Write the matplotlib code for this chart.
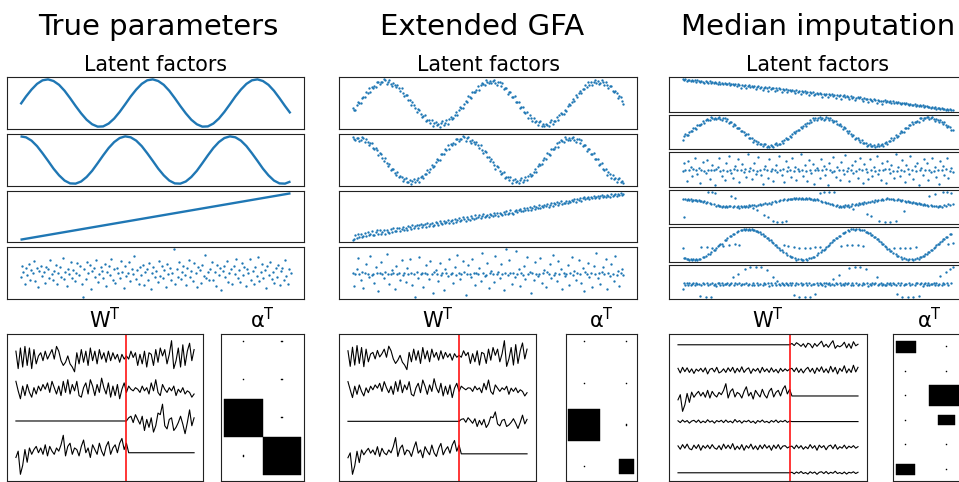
import numpy as np
import matplotlib
matplotlib.use("Agg")
import matplotlib.pyplot as plt
from matplotlib.patches import Rectangle

# ------------------------------------------------------------------
# DATA  (latent factor and loading values are stored in hundredths)
# ------------------------------------------------------------------
col_titles = ["True parameters", "Extended GFA", "Median imputation"]
panel_title = "Latent factors"

# --- true latent factors ---
true_z1 = [-5,28,57,81,96,100,93,77,52,21, -12,-43,-70,-89,-99,-98,-86,-65,-37,-5,
           28,57,81,96,100,93,77,52,21,-12, -43,-70,-89,-99,-98,-86,-65,-37,-5,28,
           57,81,96,100,93,77,52,21,-12,-43]
true_z2 = [100,96,82,59,29,-3,-36,-64,-86,-98, -99,-90,-71,-45,-13,20,51,76,93,100,
           96,82,59,29,-3,-36,-64,-86,-98,-99, -90,-71,-45,-13,20,51,76,93,100,96,
           82,59,29,-3,-36,-64,-86,-98,-99,-90]
true_z3 = [-100, 100]
true_z4 = [-45,80,12,-130,60,-20,105,-75,30,-5,140,-95,55,-160,20,85,-35,10,-110,70,
           45,-60,150,-15,-85,25,95,-120,5,65,-40,175,-70,15,-145,50,-10,120,-55,35,
           -90,0,110,-25,75,-130,-270,40,-65,130,-5,90,-180,20,60,-40,145,-100,-15,70,
           25,-55,100,-150,10,85,-20,160,-80,40,-115,55,-5,-60,135,15,-170,80,-35,5,
           120,-90,45,-10,190,-65,30,-125,70,-25,95,-140,15,50,-75,110,-180,0,65,-45,
           20,-100,140,-30,80,-60,35,-155,105,-15,60,-85,5,270,-120,45,-40,125,-70,10,
           85,-20,-135,55,150,-50,25,-95,115,-5,-165,70,30,-110,90,-35,200,-60,10,-85,
           40,125,-75,15,-150,95,-25,60,-190,20,75,-45,135,-105,0,50,-130,85,-15,165,
           -60,30,-100,110,-20,70,-145,45,-5,155,-80,25,-120,65,-35,180,-90,10,100,-55,
           35,-170,80,-25,130,-65,15,-110,55,-40,95,-140,20,60,-85,145,-30,-120,45,5]

# --- Extended GFA latent factors ---
gfa_z1 = [-22,-34,-30,-8,4,2,1,26,29,28,53,47,69,54,74,70,82,73,98,99,87,100,98,111,
          106,91,101,108,91,80,96,85,74,85,72,55,69,48,33,40,37,13,13,-7,
          4,-8,-25,-41,-29,-33,-53,-65,-61,-57,-84,-81,-78,-95,-81,-107,-94,-90,-104,-100,
          -110,-93,-84,-102,-94,-81,-96,-76,-65,-74,-71,-56,-43,-55,-30,-17,-23,-21,-2,10,
          6,32,27,25,52,53,50,59,79,62,85,93,87,83,106,97,93,104,
          93,103,109,95,84,97,97,81,92,66,69,69,44,54,52,29,27,31,4,6,
          3,-22,-17,-16,-40,-46,-41,-69,-57,-68,-83,-70,-89,-84,-103,-88,-84,-105,-98,-109,
          -96,-102,-109,-87,-81,-96,-84,-85,-66,-79,-57,-45,-52,-51,-32,-39,-13,-2,-8,4,
          17,11,39,29,45,58,45,67,68,84,73,98,86,98,85,98,107,95,
          104,88,96,106,101,84,100,84,70,78,82,58,50,58,45,24,33,30,8,-5]
gfa_z2 = [106,97,93,104,
          104,88,96,106,101,84,100,84,70,78,82,58,50,58,45,24,33,30,8,-5,
          8,-12,-26,-21,-48,-40,-41,-59,-71,-58,-80,-76,-79,-99,-91,-83,-104,-102,-92,-111,
          -98,-89,-103,-96,-83,-101,-80,-73,-84,-66,-67,-46,-58,-43,-22,-34,-30,-8,4,2,
          1,26,29,28,53,47,69,54,74,70,82,73,98,99,87,100,98,111,
          106,91,101,108,91,80,96,85,74,85,72,55,69,48,33,40,37,13,13,-7,
          4,-8,-25,-41,-29,-33,-53,-65,-61,-57,-84,-81,-78,-95,-81,-107,-94,-90,-104,-100,
          -110,-93,-84,-102,-94,-81,-96,-76,-65,-74,-71,-56,-43,-55,-30,-17,-23,-21,-2,10,
          6,32,27,25,52,53,50,59,79,62,85,93,87,83,106,97,93,104,
          93,103,109,95,84,97,97,81,92,66,69,69,44,54,52,29,27,31,4,6,
          3,-22,-17,-16,-40,-46,-41,-69,-57,-68,-83,-70,-89,-84,-103,-88,-84,-105,-98,-109]
gfa_z3 = [-113,-109,-92,-104,-88,-99,-85,-101,-96,-84, -97,-78,-92,-86,-74,-89,-91,-77,-70,-88,
          -69,-85,-76,-70,-88,-66,-78,-81,-64,-75, -59,-74,-72,-60,-56,-71,-63,-52,-68,-57,
          -66,-49,-55,-62,-45,-58,-50,-43,-57,-46, -39,-55,-44,-38,-52,-36,-47,-40,-33,-49,
          -42,-29,-37,-45,-27,-33,-39,-24,-36,-28, -19,-34,-26,-22,-33,-16,-28,-20,-13,-27,
          -23,-9,-17,-24,-8,-14,-21,-3,-12,-18, 1,-13,-6,2,-11,-3,7,-8,-1,4,
          -7,9,3,-4,12,1,10,-2,14,5, 4,17,8,21,6,13,24,11,9,22,
          27,15,25,31,19,22,36,24,33,26, 40,28,35,44,30,41,36,47,33,45,
          39,51,46,55,42,50,59,44,57,52, 62,50,58,66,53,61,57,68,59,70,
          63,74,69,77,65,78,72,82,70,80, 85,76,83,88,79,86,81,90,84,89,
          92,83,90,95,86,93,88,97,91,85, 99,90,97,102,93,100,95,104,98,101]
gfa_z4 = [5,-120,-8,40,150,-3,-60,10,-140,2,95,-5,-30,170,-10,0,-90,60,8,-170,
          4,110,-6,-45,12,190,-2,-100,-7,30,3,-150,70,-4,9,-60,130,-11,1,-80,
          50,-6,140,7,-110,-2,-230,11,-40,160,-9,4,-130,6,80,-3,-50,120,0,-190,
          10,35,-5,-75,105,-12,3,-160,45,8,-20,140,-6,2,-95,65,-10,180,5,-55,
          -8,125,12,-210,0,85,-4,-35,145,7,-115,3,-1,55,-70,200,9,-25,-13,100,
          -140,6,25,-5,-85,175,-2,11,-45,90,-9,-165,4,240,-15,130,1,-100,8,-30,
          220,-6,40,-120,3,-10,75,-55,160,-4,12,-190,5,-65,115,0,-20,-8,150,-90,
          6,30,-135,10,-3,95,-40,185,-11,2,-75,120,-7,45,-150,9,-25,-5,80,-115,
          4,165,-12,20,-60,7,135,-2,-95,55,-170,10,-6,105,-35,1,-130,75,-9,200,
          -45,3,-105,12,60,-8,140,-155,5,-20,90,-2,-70,170,-11,25,-125,8,40,-15]

# --- Median imputation latent factors ---
med_z1 = [106,96,101,92,99,94,89,97,88,95, 85,96,88,83,93,86,80,91,84,79,
          88,78,85,76,83,80,72,84,74,79, 70,79,73,68,77,66,74,69,63,72,
          60,69,63,46,67,58,64,42,55,63, 52,60,54,59,37,50,57,48,53,31,
          46,52,42,28,49,39,47,44,24,45, 33,42,37,19,40,31,38,16,35,29,
          24,33,27,10,31,22,28,6,26,19, 24,14,21,0,17,12,20,-4,9,15,
          5,13,8,-11,9,1,7,-14,5,-2, 3,-5,2,-21,-1,-9,-3,-25,-10,-4,
          -14,-6,-13,-30,-9,-19,-12,-34,-21,-15, -23,-17,-26,-40,-22,-29,-27,-46,-25,-35,
          -37,-28,-33,-53,-31,-40,-38,-58,-43,-36, -45,-38,-48,-43,-51,-41,-53,-46,-55,-48,
          -51,-59,-54,-52,-62,-55,-58,-65,-57,-63, -68,-61,-70,-65,-73,-67,-75,-69,-77,-71,
          -74,-81,-76,-84,-79,-86,-81,-89,-83,-88, -92,-86,-94,-89,-97,-91,-99,-94,-101,-97]
med_z2 = [-55,-30,-17,-23,-21,-2,10,6,32,27,25,52,53,50,59,79,62,85,93,87,83,106,97,93,104,
          93,103,109,95,84,97,97,81,92,66,69,69,44,54,52,29,27,31,4,6,
          3,-22,-17,-16,-40,-46,-41,-69,-57,-68,-83,-70,-89,-84,-103,-88,-84,-105,-98,-109,
          -96,-102,-109,-87,-81,-96,-84,-85,-66,-79,-57,-45,-52,-51,-32,-39,-13,-2,-8,4,
          17,11,39,29,45,58,45,67,68,84,73,98,86,98,85,98,107,95,
          104,88,96,106,101,84,100,84,70,78,82,58,50,58,45,24,33,30,8,-5,
          8,-12,-26,-21,-48,-40,-41,-59,-71,-58,-80,-76,-79,-99,-91,-83,-104,-102,-92,-111,
          -98,-89,-103,-96,-83,-101,-80,-73,-84,-66,-67,-46,-58,-43,-22,-34,-30,-8,4,2,
          1,26,29,28,53,47,69,54,74,70,82,73,98,99,87,100,98,111,
          106,91,101,108,91,80,96,85,74,85,72,55,69,48,33,40,37,13,13]
med_z3 = [-6,90,3,-140,120,-4,45,-80,8,160,-2,-55,25,-170,5,100,-9,-35,130,1,
          -110,7,65,-3,-190,11,40,150,-6,-70,2,-125,85,-12,180,4,-40,-95,10,55,
          -5,135,-150,0,75,-20,9,-85,200,-7,30,-115,6,95,-45,-10,165,3,-60,-180,
          12,50,-4,-100,140,-8,20,-135,5,70,-30,185,-2,-65,10,-155,115,-11,45,1,
          -90,160,-6,35,-120,8,-15,210,-3,-75,60,-9,-140,125,4,-40,80,-175,0,25,
          7,-105,145,-5,55,-60,11,-190,90,2,-25,170,-8,-85,40,6,-130,100,-1,-50,
          190,-10,30,-145,3,65,-35,120,-7,-95,15,155,-4,-165,75,9,-20,-110,135,0,
          -70,45,-12,180,-55,5,-125,95,-3,20,-160,110,8,-40,60,-6,-100,205,-9,35,
          -80,2,130,-15,-150,70,10,-45,175,-2,-115,50,-8,85,-195,4,25,-65,140,-5,
          90,-130,6,-30,160,-11,40,-85,3,-175,115,-1,55,-60,12,150,-100,-7,30,-20]
med_z4 = [28,-100,27,19,25,21,26,17,23,19, 22,15,20,12,17,9,13,3,7,78,
          1,-9,80,-8,75,-21,-16,-25,-19,-27, -20,-29,-22,-31,-25,-24,50,-32,-23,35,
          -31,-24,-33,-22,-29,-21,-28,-19,-26,-17, -23,-15,-35,-13,-20,-50,-17,-8,-14,-5,
          -85,-2,-8,-100,3,-4,6,-130,12,7, -138,13,24,-140,21,30,-132,23,31,25,
          32,25,33,27,34,28,35,29,36,30, 29,36,28,34,25,31,22,28,19,25,
          24,70,17,8,80,9,-1,3,82,-10, -6,-16,76,-22,-18,-28,-24,-30,-21,-27,
          -18,-24,-15,-30,-20,-11,-45,-15,-6,-12, -2,-8,1,-5,4,-1,-80,9,4,-95,
          15,10,19,13,22,-128,20,27,23,-138, 26,34,29,-140,27,31,23,-130,20,25,
          22,14,19,-60,16,9,13,5,9,1, 5,-3,1,-7,-2,-11,-6,-15,-10,-18,
          -13,-21,50,-17,-24,-19,62,-22,-29,-24, -25,-30,80,-18,-23,82,-11,-16,75,-4]
med_z5 = [-20,-88,-86,-95,-92,-100,-96,-103,
          -97,-103,-96,-100,-92,-95,-18,-82,-84,-73, -15,-62,-62,-49,-20,-35,-34,-20,-12,-5,
          3,5,-8,26,28,41,-5,55,56,68, 68,2,78,88,0,95,92,100,96,103,
          97,102,96,100,92,95,86,88,78,79, 68,68,56,55,42,41,28,26,13,11,
          -3,-5,-19,-20,-34,-35,-48,-5,-56,-68, -10,-73,-84,-82,-18,-89,-98,-94,-22,-97,
          -103,-98,-20,-95,-98,-89,-24,-88,-78,-79, -18,-68,-56,-15,-48,-35,-34,-26,-13,-11,
          -3,11,13,26,28,41,42,55,56,-8, 74,73,84,-3,92,89,98,0,102,97,
          103,-5,100,94,97,-8,92,82,84,73, 74,62,62,49,48,35,34,20,19,5,
          3,-11,-13,-26,-28,-41,-42,-55,-20,-62, -74,-73,-22,-82,-92,-89,-25,-94,-102,-97,
          -20,-97,-102,-94,-15,-89,-92,-82,-84,-73, -74,-62,-62,-49,-48,-35,-34,-20,-19,-5,
          3,5,19,20,34,35,48,49,5,68, 68,10]
med_z6 = [-30,4,-6,8,-3,5,-8,2,7,-4, 6,-2,3,-70,-7,9,-1,-78,5,-5,
          2,-75,8,-6,1,-9,4,7,-3,6, -7,3,-1,9,-5,2,6,40,-4,8,
          -2,60,5,-8,3,-1,90,7,-6,2, 105,-4,9,-3,105,6,-7,1,100,-5,
          8,-2,85,4,-9,5,-3,40,7,-6, 20,3,-5,8,-1,-7,6,2,-4,9,
          -3,5,-65,-8,4,-2,-78,7,-5,1, -80,6,-4,9,-75,-7,3,-1,-60,5,
          -6,8,2,-3,7,-9,4,-2,6,-5, 1,30,-7,5,-1,55,8,-4,3,-6,
          9,-2,4,95,-8,6,-3,105,7,-5, 2,102,-6,8,-1,90,5,-9,3,-4,
          7,-2,6,40,-7,1,9,-5,3,-3, -8,4,-1,6,-6,8,2,-4,-60,5,
          -3,9,-75,-7,3,-1,-80,6,-5,2, -80,-8,4,7,-72,-2,5,-9,1,6,
          -4,8,-6,3,-1,7,-3,5,-7,2, 50,-5,9,-2,75,4,-8,90,6,100]

# --- loadings W^T (rows = components, features of view 1 then view 2) ---
view1_last = 49
w_true = [
    [20,-35,30,-30,35,-25,30,-35,25,-20, 5,15,-10,20,-5,10,25,-5,35,20,
     -10,-25,-15,5,-20,-30,-45,15,-20,25, -15,20,-25,30,-10,20,-20,25,-5,15,
     -15,20,-10,15,-5,10,-15,10,-5,5,
     -5,20,0,15,-25,10,-20,20,-30,15, 10,-25,25,-15,30,5,25,-20,10,53,
     -35,-10,30,-30,40,-25,20,45,-10,25],
    [25,-5,-30,10,-20,15,-10,-25,5,-15, 10,-5,15,0,20,-10,25,5,-15,10,
     -20,25,-10,30,-15,15,-5,25,-20,-25, 5,20,-15,30,10,-20,15,-10,35,5,
     -15,20,-25,10,-20,15,-30,0,20,-10,
     10,0,-5,5,0,-10,10,-5,5,-15, 20,-5,30,-10,-20,15,0,-10,5,-5,
     10,-20,0,-10,5,-15,-5,-10,-25,-15],
    [0]*50 +
    [10,15,-5,20,5,-10,15,-30,5,-20, 10,-35,-15,25,20,53,-15,-25,5,10,
     -30,-20,-5,15,-10,-40,-5,35,-15,10],
    [-15,5,-68,-40,10,-30,15,-5,10,20, 0,15,-5,25,-10,20,5,-5,15,5,
     25,55,-10,20,30,-5,15,10,-10,20, 40,0,15,-15,25,10,-5,30,5,-10,
     20,35,-5,15,25,0,30,45,10,30] + [0]*30,
]
w_gfa = [
    [17,-31,28,-27,33,-22,27,-32,22,-17, 7,12,-8,18,-2,8,22,-3,31,17,
     -8,-22,-12,3,-18,-27,-41,12,-17,22, -12,17,-22,27,-8,17,-17,22,-3,12,
     -12,17,-8,12,-3,8,-12,8,-3,3,
     -3,17,2,12,-22,8,-17,17,-27,12, 8,-22,22,-12,27,3,22,-17,8,48,
     -31,-8,27,-27,36,-22,17,41,-8,22],
    [22,-3,-27,8,-17,12,-8,-22,3,-12, 8,-3,12,2,17,-8,22,3,-12,8,
     -17,22,-8,27,-12,12,-3,22,-17,-22, 3,17,-12,27,8,-17,12,-8,31,3,
     -12,17,-22,8,-17,12,-27,2,17,-8,
     8,2,-3,3,2,-8,8,-3,3,-12, 17,-3,27,-8,-17,12,2,-8,3,-3,
     8,-17,2,-8,3,-12,-3,-8,-22,-12],
    [0]*50 +
    [6,8,-3,11,3,-6,8,-16,3,-11, 6,-19,-8,14,11,29,-8,-14,3,6,
     -16,-11,-3,8,-6,-22,-3,19,-8,6],
    [-12,3,-63,-37,8,-27,12,-3,8,17, 2,12,-3,22,-8,17,3,-3,12,3,
     22,50,-8,17,27,-3,12,8,-8,17, 37,2,12,-12,22,8,-3,27,3,-8,
     17,32,-3,12,22,2,27,41,8,27] + [0]*30,
]
w_med = [
    [0]*50 +
    [5,-3,8,2,-6,4,-10,6,2,-12, 5,-6,4,14,-8,2,-10,4,16,-14,
     -3,-8,-2,10,-12,4,-14,12,-4,2],
    [8,-10,12,-5,10,-8,6,-12,5,-3, 8,-6,10,-14,4,8,-6,12,-10,-5,
     6,-8,10,-4,12,-10,8,-6,14,-8, 4,10,-12,6,-3,8,-10,12,-5,6,
     -8,10,-6,4,-10,8,-4,6,-2,5,
     8,-5,10,-8,6,-10,4,12,-6,8, -12,10,-4,14,-8,6,-10,16,-6,12,
     -14,8,-4,18,-10,6,-8,20,-6,12],
    [-15,5,-60,-35,10,-25,15,-5,8,18, 0,14,-5,22,-8,18,4,-4,14,5,
     22,48,-8,18,28,-4,14,8,-8,18, 36,0,14,-12,22,8,-4,26,4,-8,
     18,30,-4,14,22,0,26,40,8,26] + [0]*30,
    [3,-4,6,-2,4,-6,2,5,-3,6, -5,2,-4,7,-2,3,-6,4,-1,5,
     -4,6,-3,2,-5,8,-2,4,-6,3, -1,5,-4,2,-7,4,-2,6,-3,1,
     -5,4,-2,6,-4,3,-1,5,-3,2] + [0]*30,
    [5,-8,10,-4,12,-6,-10,8,-5,10, -12,6,-4,8,-6,10,-3,-8,6,-10,
     12,-5,8,-6,14,-10,4,-8,10,-12, 6,-4,12,-8,5,-10,8,-6,10,-4,
     6,-12,8,-5,10,-8,4,6,-3,2,
     4,-6,8,-4,6,-8,2,-6,10,-4, 6,-12,8,-2,6,-10,4,8,-6,10,
     -8,2,-4,8,-6,4,-2,6,-4,2],
    [0]*50 +
    [2,-4,3,-2,5,-3,1,-5,4,-2, 3,-6,2,4,-3,5,-4,2,-2,6,
     -3,1,-4,3,-5,2,-1,4,-3,2],
]

# --- ARD precisions alpha^T (rows = components, columns = views) ---
alpha_true = [[1, 1], [1, 1], [1024, 1], [1, 1000]]
alpha_gfa = [[1, 1], [1, 1], [594, 1], [1, 133]]
alpha_med = [[246, 1], [1, 1], [1, 757], [1, 180], [1, 1], [226, 1]]

# ------------------------------------------------------------------
# LAYOUT (pixel boxes on a 959 x 482 canvas)
# ------------------------------------------------------------------
FW, FH = 959, 482
BLUE = "#1f77b4"
fig = plt.figure(figsize=(FW / 100, FH / 100), dpi=100)
fig.patch.set_facecolor("white")


def px_axes(x0, y0, x1, y1):
    ax = fig.add_axes([x0 / FW, 1 - y1 / FH, (x1 - x0) / FW, (y1 - y0) / FH])
    ax.set_xticks([])
    ax.set_yticks([])
    for s in ax.spines.values():
        s.set_linewidth(0.8)
        s.set_color("#222222")
    return ax


def ftext(x, y, s, size):
    fig.text(x / FW, 1 - y / FH, s, ha="center", va="baseline", fontsize=size)


columns = [
    dict(title=col_titles[0], tx=158, lx=(7, 304),
         rows=[(77, 129), (134, 186), (191, 242), (247, 299)],
         series=[("line", true_z1), ("line", true_z2), ("line", true_z3), ("dots", true_z4)],
         wbox=(7, 203), W=w_true, abox=(221, 304), A=alpha_true, atx=262.5,
         alim=((-0.584, 1.571), (3.656, -0.202))),
    dict(title=col_titles[1], tx=482, lx=(339, 637),
         rows=[(77, 129), (134, 186), (191, 242), (247, 299)],
         series=[("dots", gfa_z1), ("dots", gfa_z2), ("dots", gfa_z3), ("dots", gfa_z4)],
         wbox=(339, 536), W=w_gfa, abox=(566, 637), A=alpha_gfa, atx=601.5,
         alim=((-0.432, 1.243), (3.343, -0.185))),
    dict(title=col_titles[2], tx=818, lx=(669, 966),
         rows=[(77, 112), (115, 149), (152, 187), (190, 224), (227, 262), (265, 299)],
         series=[("dots", med_z1), ("dots", med_z2), ("dots", med_z3),
                 ("dots", med_z4), ("dots", med_z5), ("dots", med_z6)],
         wbox=(669, 867), W=w_med, abox=(893, 966), A=alpha_med, atx=929,
         alim=((-0.31, 1.471), (5.477, -0.518))),
]

for col in columns:
    ftext(col["tx"], 35, col["title"], 21)
    lx0, lx1 = col["lx"]
    ftext((lx0 + lx1) / 2, 71, panel_title, 14.8)
    for (y0, y1), (kind, vals) in zip(col["rows"], col["series"]):
        ax = px_axes(lx0, y0, lx1, y1)
        v = np.asarray(vals, float) / 100.0
        if kind == "line":
            x = np.linspace(0, 199, len(v))
            ax.plot(x, v, color=BLUE, lw=1.7, solid_capstyle="butt")
        else:
            x = np.arange(len(v))
            ax.plot(x, v, "o", color=BLUE, ms=1.7, mew=0)

    # W^T panel
    wx0, wx1 = col["wbox"]
    axw = px_axes(wx0, 334, wx1, 481)
    for k, row in enumerate(col["W"]):
        r = np.asarray(row, float) / 100.0
        axw.plot(np.arange(len(r)), r - k, color="black", lw=0.8)
    axw.axvline(view1_last, color="red", lw=1.1)
    ftext((wx0 + wx1) / 2, 328, r"$\mathrm{W}^\mathrm{T}$", 15)

    # alpha^T Hinton panel
    ax0, ax1 = col["abox"]
    axa = px_axes(ax0, 334, ax1, 481)
    M = np.asarray(col["A"], float)
    mw = 2 ** np.ceil(np.log2(np.abs(M).max()))
    for (r, c), val in np.ndenumerate(M):
        s = np.sqrt(abs(val) / mw)
        axa.add_patch(Rectangle((c - s / 2, r - s / 2), s, s,
                                facecolor="black", edgecolor="black", lw=0.3))
    axa.set_xlim(*col["alim"][0])
    axa.set_ylim(*col["alim"][1])
    ftext(col["atx"], 328, r"$\mathrm{\alpha}^\mathrm{T}$", 15)

fig.savefig("out.png", dpi=100, facecolor="white")
